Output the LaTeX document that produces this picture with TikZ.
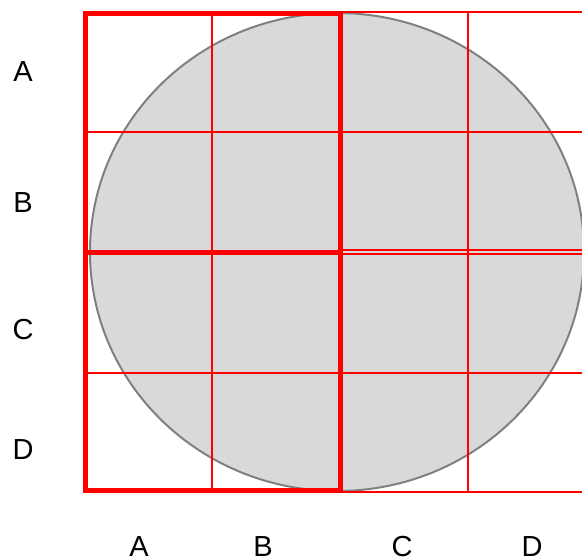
\documentclass[tikz,border=0pt]{standalone}
\usepackage{fontspec}
\setmainfont{Liberation Sans}
\definecolor{discfill}{RGB}{217,217,217}
\definecolor{discline}{RGB}{128,128,128}
\begin{document}
\begin{tikzpicture}[x=1pt, y=-1pt, font=\fontsize{29}{32}\selectfont, line join=miter,
	thin grid/.style={red, line width=2.4pt},
	thick grid/.style={red, line width=5pt},
	every node/.style={inner sep=0pt}]
	\useasboundingbox (0,0) rectangle (582,560);
	\clip (0,0) rectangle (582,560);
	% disc
	\draw[fill=discfill, draw=discline, line width=2pt] (337,252) ellipse [x radius=247, y radius=239];
	% thin grid lines
	\draw[thin grid] (212,12) -- (212,492);
	\draw[thin grid] (468,12) -- (468,492);
	\draw[thin grid] (85,132) -- (596,132);
	\draw[thin grid] (85,373) -- (596,373);
	\draw[thin grid] (340,12) -- (596,12);
	\draw[thin grid] (340,492) -- (596,492);
	\draw[thin grid, line width=2pt] (340,250) -- (596,250);
	\draw[thin grid, line width=2pt] (340,254) -- (596,254);
	% thick boxes
	\draw[thick grid] (85,13) rectangle (340,490);
	\draw[thick grid] (85,252) -- (340,252);
	\draw[thick grid] (340,490) -- (340,492);
	% labels
	\node (rowA) at (23,72) {A};
	\node (rowB) at (23,203) {B};
	\node (rowC) at (23,330) {C};
	\node (rowD) at (23,450) {D};
	\node (colA) at (139,547) {A};
	\node (colB) at (263,547) {B};
	\node (colC) at (402,547) {C};
	\node (colD) at (532,547) {D};
\end{tikzpicture}
\end{document}
